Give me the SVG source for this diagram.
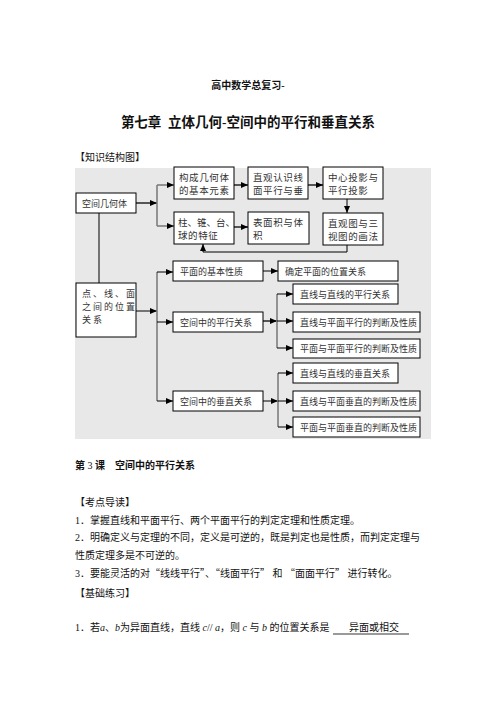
<svg xmlns="http://www.w3.org/2000/svg" width="496" height="702" viewBox="0 0 496 702">
<defs>
<style>
.t{font-family:"Liberation Serif","Noto Sans CJK SC",serif;fill:#111}
.b{font-weight:bold}
.bx{fill:#fff;stroke:#000;stroke-width:1}
.bt{font-family:"Liberation Serif","Noto Sans CJK SC",serif;font-size:9.5px;fill:#333}
.st{font-family:"Liberation Serif","Noto Sans CJK SC",serif;font-size:9px;fill:#333}
.c{fill:none;stroke:#000;stroke-width:1}
.g{fill:none;stroke:#555;stroke-width:2}
.gv{fill:none;stroke:#777;stroke-width:1.5}
.i{font-style:italic}
.q{font-family:"Noto Sans CJK SC",sans-serif}
</style>
<marker id="ah" markerWidth="7" markerHeight="6" refX="7" refY="3" orient="auto" markerUnits="userSpaceOnUse">
<path d="M0,0 L7,3 L0,6 Z" fill="#000"/>
</marker>
</defs>
<rect width="496" height="702" fill="#fff"/>

<text class="t b" x="248" y="89" font-size="10" text-anchor="middle">高中数学总复习-</text>
<text class="t b" x="248" y="127" font-size="13.5" text-anchor="middle" xml:space="preserve">第七章  立体几何-空间中的平行和垂直关系</text>
<text class="t" x="75" y="161" font-size="10" fill="#333">【知识结构图】</text>

<rect x="75" y="168" width="356" height="271" fill="#e8e8e8"/>

<g id="connectors">
<path class="g" d="M136,203 H157" marker-end="url(#ah)"/>
<path class="gv" d="M157,185 V226"/>
<path class="gv" d="M157,185 H174" marker-end="url(#ah)"/>
<path class="gv" d="M157,226 H174" marker-end="url(#ah)"/>
<path class="g" d="M234,185 H248" marker-end="url(#ah)"/>
<path class="g" d="M308,185 H323" marker-end="url(#ah)"/>
<path class="c" d="M347,199 V213" marker-end="url(#ah)"/>
<path class="g" d="M234,227 H248" marker-end="url(#ah)"/>
<path class="c" d="M347,245 V252 H203 V244" marker-end="url(#ah)"/>
<path class="c" d="M99,213 V283"/>
<path class="c" d="M136,311 H157" marker-end="url(#ah)"/>
<path class="gv" d="M157,272 V401"/>
<path class="c" d="M157,272 H173" marker-end="url(#ah)"/>
<path class="c" d="M157,322 H173" marker-end="url(#ah)"/>
<path class="c" d="M157,401 H173" marker-end="url(#ah)"/>
<path class="c" d="M263,271 H278" marker-end="url(#ah)"/>
<path class="g" d="M263,321 H277" marker-end="url(#ah)"/>
<path class="gv" d="M277,294 V348"/>
<path class="c" d="M277,294 H293" marker-end="url(#ah)"/>
<path class="c" d="M277,321 H293" marker-end="url(#ah)"/>
<path class="c" d="M277,348 H293" marker-end="url(#ah)"/>
<path class="c" d="M263,401 H278" marker-end="url(#ah)"/>
<path class="gv" d="M278,373 V427"/>
<path class="c" d="M278,373 H293" marker-end="url(#ah)"/>
<path class="c" d="M278,401 H293" marker-end="url(#ah)"/>
<path class="c" d="M278,427 H293" marker-end="url(#ah)"/>
</g>

<g id="n-kjjht"><rect class="bx" x="76" y="193" width="60" height="20"/><text class="st" x="82" y="206.5">空间几何体</text></g>
<g id="n-gc"><rect class="bx" x="174" y="167" width="60" height="32"/><text class="bt" x="179" y="181" letter-spacing="0.6">构成几何体</text><text class="bt" x="179" y="194" letter-spacing="0.6">的基本元素</text></g>
<g id="n-zg"><rect class="bx" x="248" y="167" width="60" height="32"/><text class="bt" x="253" y="181" letter-spacing="0.6">直观认识线</text><text class="bt" x="253" y="194" letter-spacing="0.6">面平行与垂</text></g>
<g id="n-zx"><rect class="bx" x="323" y="167" width="60" height="32"/><text class="bt" x="328" y="181" letter-spacing="0.6">中心投影与</text><text class="bt" x="328" y="194" letter-spacing="0.6">平行投影</text></g>
<g id="n-zz"><rect class="bx" x="174" y="212" width="60" height="32"/><text class="bt" x="178" y="226">柱、锥、台、</text><text class="bt" x="178" y="239" letter-spacing="0.6">球的特征</text></g>
<g id="n-bm"><rect class="bx" x="248" y="212" width="61" height="32"/><text class="bt" x="253" y="226" letter-spacing="0.6">表面积与体</text><text class="bt" x="253" y="239">积</text></g>
<g id="n-zgt"><rect class="bx" x="323" y="213" width="60" height="32"/><text class="bt" x="328" y="227" letter-spacing="0.6">直观图与三</text><text class="bt" x="328" y="240" letter-spacing="0.6">视图的画法</text></g>
<g id="n-dxm"><rect class="bx" x="76" y="283" width="60" height="54"/><text class="st" x="82" y="297" letter-spacing="2">点、线、面</text><text class="st" x="82" y="310" letter-spacing="2">之间的位置</text><text class="st" x="82" y="323" letter-spacing="2">关系</text></g>

<g id="n-pmjb"><rect class="bx" x="173" y="261" width="90" height="20"/><text class="st" x="180" y="274.5">平面的基本性质</text></g>
<g id="n-qd"><rect class="bx" x="278" y="261" width="120" height="20"/><text class="st" x="285" y="274.5">确定平面的位置关系</text></g>
<g id="n-zxzxpx"><rect class="bx" x="293" y="284" width="105" height="20"/><text class="st" x="300" y="297.5">直线与直线的平行关系</text></g>
<g id="n-kjpx"><rect class="bx" x="173" y="312" width="90" height="20"/><text class="st" x="180" y="325.5">空间中的平行关系</text></g>
<g id="n-zxpmpx"><rect class="bx" x="293" y="312" width="127" height="20"/><text class="st" x="300" y="325.5">直线与平面平行的判断及性质</text></g>
<g id="n-pmpmpx"><rect class="bx" x="293" y="339" width="127" height="19"/><text class="st" x="300" y="352">平面与平面平行的判断及性质</text></g>
<g id="n-zxzxcz"><rect class="bx" x="293" y="363" width="105" height="20"/><text class="st" x="300" y="376.5">直线与直线的垂直关系</text></g>
<g id="n-kjcz"><rect class="bx" x="173" y="391" width="90" height="20"/><text class="st" x="180" y="404.5">空间中的垂直关系</text></g>
<g id="n-zxpmcz"><rect class="bx" x="293" y="391" width="127" height="20"/><text class="st" x="300" y="404.5">直线与平面垂直的判断及性质</text></g>
<g id="n-pmpmcz"><rect class="bx" x="293" y="417" width="127" height="20"/><text class="st" x="300" y="430.5">平面与平面垂直的判断及性质</text></g>

<text class="t b" x="75" y="469" font-size="10">第<tspan font-weight="normal"> 3 </tspan>课　空间中的平行关系</text>
<text class="t" x="75" y="506" font-size="10">【考点导读】</text>
<text class="t" x="75" y="524" font-size="10">1．掌握直线和平面平行、两个平面平行的判定定理和性质定理。</text>
<text class="t" x="75" y="541" font-size="10">2．明确定义与定理的不同，定义是可逆的，既是判定也是性质，而判定定理与</text>
<text class="t" x="75" y="559" font-size="10">性质定理多是不可逆的。</text>
<text class="t" x="75" y="577" font-size="10">3．要能灵活的对<tspan class="q">“</tspan>线线平行<tspan class="q">”</tspan>、<tspan class="q">“</tspan>线面平行<tspan class="q">”</tspan> 和 <tspan class="q">“</tspan>面面平行<tspan class="q">”</tspan> 进行转化。</text>
<text class="t" x="75" y="597" font-size="10">【基础练习】</text>
<text class="t" x="75" y="631" font-size="10">1．若<tspan class="i">a</tspan>、<tspan class="i">b</tspan>为异面直线，直线 <tspan class="i">c</tspan>// <tspan class="i">a</tspan>，则 <tspan class="i">c</tspan> 与 <tspan class="i">b</tspan> 的位置关系是<tspan x="349">异面或相交</tspan></text>
<path d="M333,634 H409" stroke="#000" stroke-width="0.8"/>
</svg>
